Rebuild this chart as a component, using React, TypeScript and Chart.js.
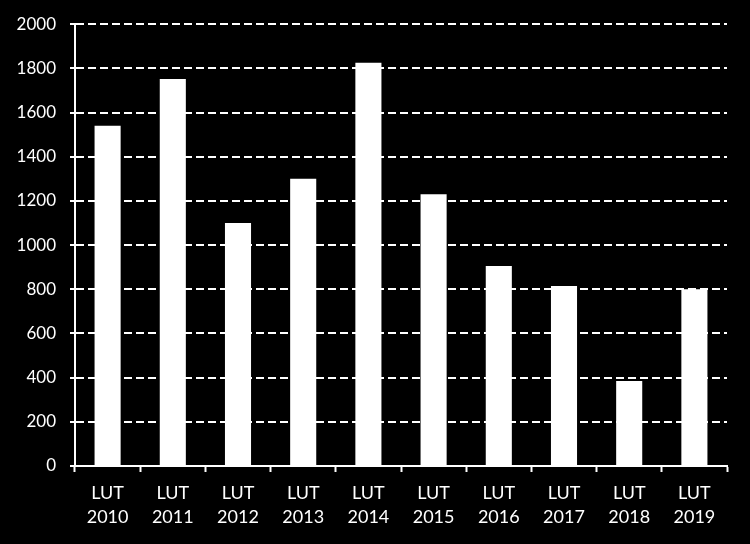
import React, { useEffect, useRef } from "react";
import { Chart, registerables } from "chart.js";

Chart.register(...registerables);

const categories: string[][] = [
  ["LUT", "2010"],
  ["LUT", "2011"],
  ["LUT", "2012"],
  ["LUT", "2013"],
  ["LUT", "2014"],
  ["LUT", "2015"],
  ["LUT", "2016"],
  ["LUT", "2017"],
  ["LUT", "2018"],
  ["LUT", "2019"],
];
const values: number[] = [1540, 1752, 1100, 1300, 1825, 1230, 905, 815, 385, 800];
const yMin = 0;
const yMax = 2000;
const yStep = 200;

export default function App() {
  const ref = useRef<HTMLCanvasElement | null>(null);

  useEffect(() => {
    document.body.style.margin = "0";
    document.body.style.background = "#000";
    const canvas = ref.current;
    if (!canvas) return;
    const chart = new Chart(canvas, {
      type: "bar",
      data: {
        labels: categories,
        datasets: [
          {
            data: values,
            backgroundColor: "#ffffff",
            borderWidth: 0,
            barPercentage: 0.8,
            categoryPercentage: 0.5,
          },
        ],
      },
      options: {
        responsive: false,
        animation: false,
        devicePixelRatio: 1,
        layout: { padding: { top: 23, right: 23, left: 0, bottom: 0 } },
        plugins: {
          legend: { display: false },
          tooltip: { enabled: false },
        },
        scales: {
          x: {
            grid: {
              display: true,
              drawOnChartArea: false,
              drawTicks: true,
              tickLength: 6,
              tickColor: "#ffffff",
              tickWidth: 2,
              offset: true,
            },
            border: { display: true, color: "#ffffff", width: 2 },
            ticks: {
              color: "#ffffff",
              font: { family: "Lato", size: 18, lineHeight: 1.35 },
              padding: 9,
              maxRotation: 0,
            },
            afterFit: (scale: any) => {
              scale.height = 78;
            },
          },
          y: {
            min: yMin,
            max: yMax,
            grid: {
              color: "#ffffff",
              lineWidth: 2,
              drawTicks: true,
              tickLength: 5,
              tickColor: "#ffffff",
              tickWidth: 2,
              tickBorderDash: [],
            },
            border: { display: true, color: "#ffffff", width: 2, dash: [8, 4] },
            ticks: {
              stepSize: yStep,
              color: "#ffffff",
              font: { family: "Lato", size: 17 },
              padding: 14,
              callback: (v: any) => String(v),
            },
            afterFit: (scale: any) => {
              scale.width = 75;
            },
          },
        },
      },
    });
    return () => chart.destroy();
  }, []);

  return (
    <div style={{ position: "fixed", left: 0, top: 0, width: 750, height: 544, background: "#000" }}>
      <canvas ref={ref} width={750} height={544} style={{ display: "block", width: 750, height: 544 }} />
    </div>
  );
}
